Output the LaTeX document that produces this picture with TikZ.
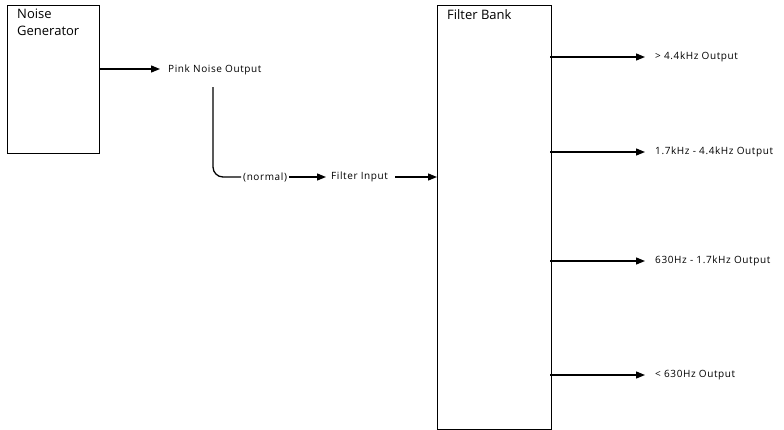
\documentclass[tikz,border=0pt]{standalone}
\usepackage{fontspec}
\setmainfont{Open Sans}
\newfontfamily\lblfont[LetterSpace=6]{Open Sans}
\usetikzlibrary{arrows.meta}
\begin{document}
\begin{tikzpicture}[x=1pt,y=-1pt,
  blk/.style={draw, line width=1.3pt, anchor=north west, inner sep=0},
  big/.style={font=\fontsize{13}{17}\selectfont, inner sep=0, anchor=north west, align=left},
  lbl/.style={font=\lblfont\fontsize{10}{12}\selectfont, inner sep=0, anchor=west},
  conn/.style={line width=1.3pt},
  arr/.style={conn, -{Triangle[length=9pt,width=7pt]}}]
\useasboundingbox (0,0) rectangle (784,429);
\node[blk, minimum width=92pt, minimum height=148pt] (ng) at (7,5) {};
\node[big] (ngt) at (17,9) {Noise\\Generator};
\node[blk, minimum width=114pt, minimum height=424pt] (fb) at (437,5) {};
\node[big] (fbt) at (447,9) {Filter Bank};
\node[lbl] (pink) at (168,70) {Pink Noise Output};
\node[lbl] (normal) at (243,177) {(normal)};
\node[lbl] (fin) at (331,177) {Filter Input};
\node[lbl] (o1) at (655,57) {> 4.4kHz Output};
\node[lbl] (o2) at (655,152) {1.7kHz - 4.4kHz Output};
\node[lbl] (o3) at (655,261) {630Hz - 1.7kHz Output};
\node[lbl] (o4) at (655,375) {< 630Hz Output};
\coordinate (tap) at (213,87);
\draw[arr] (ng.east |- 0,69) -- ([xshift=-8pt]pink.west |- 0,69);
\draw[conn, rounded corners=10pt] (tap) |- ([xshift=-2pt]normal.west);
\draw[arr] ([xshift=2pt]normal.east) -- ([xshift=-5pt]fin.west);
\draw[arr] ([xshift=7pt]fin.east) -- (fb.west |- fin);
\foreach \o in {o1,o2,o3,o4}
  \draw[arr] ([xshift=-2pt]fb.east |- \o) -- ([xshift=-10pt]\o.west);
\end{tikzpicture}
\end{document}
